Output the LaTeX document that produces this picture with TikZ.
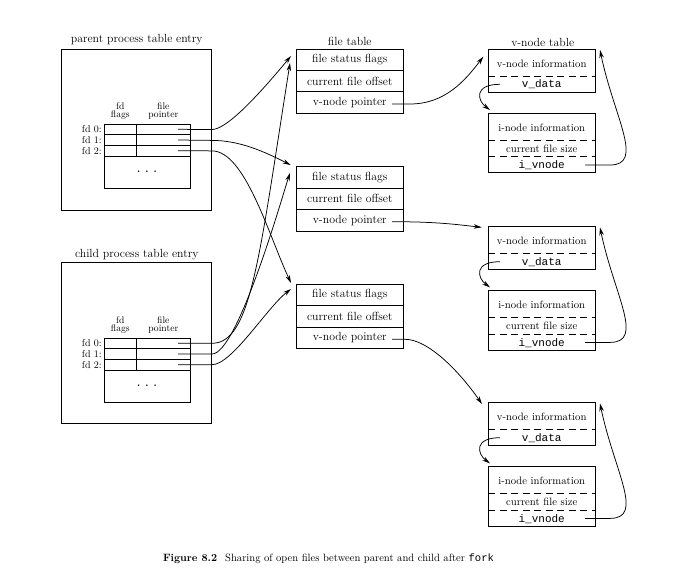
\documentclass[tikz,border=0pt]{standalone}
\usepackage{fontspec}
\newfontfamily\codefont{Liberation Mono}
\usetikzlibrary{arrows.meta}

% one fd table (three fd rows and the "..." block) of a process table entry
% #1: name prefix, #2: y of the table's top edge
\newcommand\fdtable[2]{%
  \foreach \r in {0,1,2}{%
    \node[cell, minimum width=32.7pt] (#1f\r) at (120.35,{#2+5.33+10.67*\r}) {};
    \node[cell, minimum width=53.3pt] (#1p\r) at (163.35,{#2+5.33+10.67*\r}) {};
    \node[fdlbl, anchor=east] (#1l\r) at (101.7,{#2+5.33+10.67*\r}) {fd \r:};
    \coordinate (#1s\r) at (178,{#2+5.33+10.67*\r});
  }
  \node[cell, minimum width=86pt, minimum height=32pt] (#1dots) at (147,{#2+48}) {\textbf{.\hspace{5pt}.\hspace{5pt}.}};
  \node[fdhdr] (#1hf) at (120.35,{#2-13}) {fd\\flags};
  \node[fdhdr] (#1hp) at (163.35,{#2-13}) {file\\pointer};
}

\begin{document}
\begin{tikzpicture}[x=1pt, y=-1pt,
  every node/.style={inner sep=0pt, outer sep=0pt},
  lbl/.style={font=\fontsize{11.8}{13}\selectfont},
  vlbl/.style={font=\fontsize{10.7}{12}\selectfont},
  code/.style={font=\codefont\fontsize{11}{12}\selectfont},
  fdlbl/.style={font=\fontsize{10}{11}\selectfont},
  fdhdr/.style={font=\fontsize{9.6}{8.6}\selectfont, align=center},
  frame/.style={draw, line width=0.75pt},
  cell/.style={frame, minimum height=10.67pt},
  ftrow/.style={frame, minimum width=107pt, minimum height=21.4pt, lbl},
  vbox/.style={frame, minimum width=106.7pt},
  sep/.style={line width=0.75pt, dash pattern=on 7pt off 4.5pt},
  ptr/.style={line width=0.75pt, -{Stealth[length=8pt,width=4.5pt]}},
]
\useasboundingbox (0,0) rectangle (680,580);

% ---------- process table entries ----------
\node[frame, minimum width=150pt, minimum height=161pt] (ppt) at (136.7,129.5) {};
\node[lbl] (ppttitle) at (136.7,40) {parent process table entry};
\fdtable{p}{124}

\node[frame, minimum width=150pt, minimum height=160.6pt] (cpt) at (136.7,343) {};
\node[lbl] (cpttitle) at (136.7,255) {child process table entry};
\fdtable{c}{338}

% ---------- file table ----------
\node[lbl] (fttitle) at (349.8,41) {file table};
\foreach \n/\y in {1/49,2/166.7,3/284.3}{%
  \node[ftrow] (fs\n) at (349.8,{\y+10.7}) {file status flags};
  \node[ftrow] (fo\n) at (349.8,{\y+32.1}) {current file offset};
  \node[ftrow] (fv\n) at (349.8,{\y+53.5}) {v-node pointer};
  \coordinate (fp\n) at (392,{\y+55});
}

% ---------- v-node / i-node tables ----------
\node[lbl] (vttitle) at (542.7,42.7) {v-node table};
\foreach \n/\y in {1/49.3,2/226.7,3/402.7}{%
  \node[vbox, minimum height=43pt] (v\n) at (541.7,{\y+21.5}) {};
  \draw[sep] ([yshift=-27pt]v\n.north west) -- ([yshift=-27pt]v\n.north east);
  \node[vlbl] (vi\n) at (541.7,{\y+14}) {v-node information};
  \node[code] (vd\n) at (541.7,{\y+35}) {v\_data};
  \node[vbox, minimum height=59.5pt] (i\n) at (541.7,{\y+93.75}) {};
  \draw[sep] ([yshift=-26.7pt]i\n.north west) -- ([yshift=-26.7pt]i\n.north east);
  \draw[sep] ([yshift=-43.2pt]i\n.north west) -- ([yshift=-43.2pt]i\n.north east);
  \node[vlbl] (ii\n) at (541.7,{\y+78}) {i-node information};
  \node[vlbl] (is\n) at (541.7,{\y+99}) {current file size};
  \node[code] (iv\n) at (541.7,{\y+116.2}) {i\_vnode};
  % v_data -> i-node
  \coordinate (ds\n) at (500,{\y+35});
  \coordinate (dt\n) at (490,{\y+60.7});
  \draw[ptr] (ds\n) .. controls (474,{\y+35}) and (477,{\y+51}) .. (dt\n);
  % i_vnode -> v-node
  \coordinate (is\n s) at (585,{\y+115.7});
  \coordinate (is\n t) at (600,{\y+0.7});
  \draw[ptr] (is\n s) -- (610,{\y+115.7}) .. controls (645,{\y+115.7}) and (614,{\y+68}) .. (is\n t);
}

% ---------- arrow end points near the file table ----------
\coordinate (t1p) at (291,56);
\coordinate (t2p) at (290.7,165);
\coordinate (t3p) at (291,283);
\coordinate (t1c) at (290,63);
\coordinate (t2c) at (290,173);
\coordinate (t3c) at (291,289);

% parent fds
\draw[ptr] (ps0) -- (212,129.5) .. controls (225,129.5) and (252,103) .. (t1p);
\draw[ptr] (ps1) -- (212,140.4) .. controls (240,140.4) and (265,152) .. (t2p);
\draw[ptr] (ps2) -- (212,150.9) .. controls (245,150.9) and (269,236) .. (t3p);
% child fds
\draw[ptr] (cs0) -- (212,343.3) .. controls (251,343.3) and (259,259) .. (t1c);
\draw[ptr] (cs1) -- (212,354) .. controls (237.7,354) and (283,194) .. (t2c);
\draw[ptr] (cs2) -- (212,364.7) .. controls (232,364.7) and (267,307.5) .. (t3c);

% ---------- v-node pointers ----------
\coordinate (vt1) at (483.3,56.7);
\coordinate (vt2) at (481.7,227.3);
\coordinate (vt3) at (482,404);
\draw[ptr] (fp1) -- (410,104) .. controls (445,104) and (465,80.7) .. (vt1);
\draw[ptr] (fp2) .. controls (440,221.7) and (460,225) .. (vt2);
\draw[ptr] (fp3) -- (405,339.3) .. controls (428,339.3) and (459,371) .. (vt3);

% ---------- caption ----------
\node[anchor=base west, font=\fontsize{10.6}{12}\selectfont] (cap) at (163,561)
  {\textbf{Figure 8.2}\hspace{8pt}Sharing of open files between parent and child after {\codefont fork}};
\end{tikzpicture}
\end{document}
